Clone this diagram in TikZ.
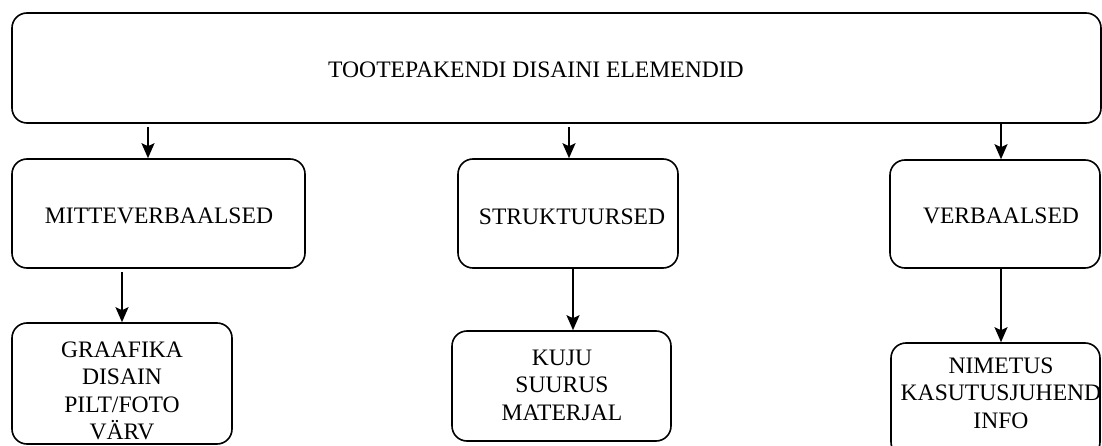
\documentclass[tikz,border=0pt]{standalone}
\usepackage{fontspec}
\setmainfont{Liberation Serif}
\usetikzlibrary{arrows.meta}
\begin{document}
\begin{tikzpicture}[x=1pt,y=-1pt,
  box/.style={draw=black, line width=1.6pt, rounded corners=15pt, inner sep=0pt, fill=white},
  lbl/.style={inner sep=0pt, align=center, font=\fontsize{23.6}{27.5}\selectfont},
  arr/.style={line width=1.6pt, -{Stealth[length=15pt,width=13pt,inset=3pt]}, shorten <=3pt}]
\useasboundingbox (0,0) rectangle (1102,446);
\clip (0,0) rectangle (1102,446);
% boxes (corner to corner)
\node[box, minimum width=1089pt, minimum height=110pt] (top) at (556.5,68) {};
\node[box, minimum width=293pt, minimum height=109pt] (m) at (158.5,213.5) {};
\node[box, minimum width=220pt, minimum height=109pt] (s) at (568,213.5) {};
\node[box, minimum width=210pt, minimum height=108pt] (v) at (995,214) {};
\node[box, minimum width=220pt, minimum height=121pt] (g) at (122,383.5) {};
\node[box, minimum width=219pt, minimum height=110pt] (k) at (561.5,386) {};
\node[box, minimum width=209pt, minimum height=114pt] (n) at (995.5,400) {};
% texts
\node[lbl] (ttop) at (536,70) {TOOTEPAKENDI DISAINI ELEMENDID};
\node[lbl] (tm) at (159,216) {MITTEVERBAALSED};
\node[lbl] (ts) at (572,217) {STRUKTUURSED};
\node[lbl] (tv) at (1001,216) {VERBAALSED};
\node[lbl] (tg) at (122,391) {GRAAFIKA\\DISAIN\\PILT/FOTO\\VÄRV};
\node[lbl] (tk) at (562,385) {KUJU\\SUURUS\\MATERJAL};
\node[lbl] (tn) at (1001,393) {NIMETUS\\KASUTUSJUHEND\\INFO};
% arrow x positions
\coordinate (a1) at (148,0);
\coordinate (a2) at (569,0);
\coordinate (a3) at (1001,0);
\coordinate (b1) at (122,0);
\coordinate (b2) at (573,0);
\coordinate (b3) at (1001,0);
\draw[arr] (top.south -| a1) -- (m.north -| a1);
\draw[arr] (top.south -| a2) -- (s.north -| a2);
\draw[arr, shorten <=0pt] (top.south -| a3) -- (v.north -| a3);
\draw[arr] (m.south -| b1) -- (g.north -| b1);
\draw[arr, shorten <=0pt] (s.south -| b2) -- (k.north -| b2);
\draw[arr, shorten <=0pt] (v.south -| b3) -- (n.north -| b3);
\end{tikzpicture}
\end{document}
